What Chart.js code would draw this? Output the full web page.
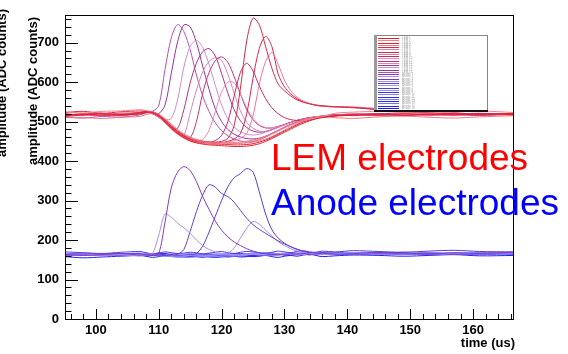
<!DOCTYPE html>
<html><head><meta charset="utf-8">
<script src="https://cdn.jsdelivr.net/npm/chart.js@4"></script>
<style>html,body{margin:0;padding:0;background:#fff;}#wrap{width:568px;height:354px;position:relative;}</style>
</head><body><div id="wrap"><canvas id="c"></canvas></div>
<script>
// time axis (us)
const time = [95.1,98,101,104,107, 108,109,110,111,112,113,114,115,116,117, 118,119,120,121,122,123,124,125,126,127, 128,129,130,131,132,133,134,135,136, 138,141,145,149,153,157,161,166.5];
const xTickLabels = [100,110,120,130,140,150,160];
const yTickLabels = [0,100,200,300,400,500,600,700];

// LEM electrode traces (ADC counts)
const lemD1 = [515,519,516,518,523, 525,522,514,500,484,470,459,451,446,443, 441,440,439,438,437,437,438,440,444,450, 457,465,473,481,489,496,502,507,510, 514,516,519,516,519,517,520,518];
const lemD2 = [513,517,520,516,521, 524,523,516,503,488,474,463,455,449,446, 444,443,442,442,441,441,442,444,448,453, 460,468,476,484,492,499,504,508,511, 515,518,516,520,517,521,518,521];
const lemD3 = [525,522,526,527,530, 528,521,512,497,481,468,458,451,447,445, 444,443,443,444,444,445,447,450,455,461, 468,476,484,491,497,502,506,509,512, 521,524,526,523,521,525,527,523];
const lemD4 = [512,510,508,511,513, 518,520,515,506,492,478,467,459,453,449, 447,446,446,446,447,448,450,453,457,463, 470,478,486,493,499,504,507,510,512, 510,508,512,514,511,509,512,515];
const lemD5 = [516,520,517,515,522, 527,525,519,508,494,480,469,461,455,451, 449,447,446,445,445,445,446,448,451,456, 462,470,479,487,494,500,505,509,512, 514,518,515,518,521,517,520,519];
const lemP1 = [511,509,513,511,517, 522,526,540,632,712,746,728,682,618,565, 526,497,477,464,456,451,449,450,454,461, 469,477,485,492,498,503,507,510,512, 515,518,516,519,521,518,516,519];
const lemP2 = [519,516,518,521,520, 525,524,520,542,622,702,745,740,700,640, 582,532,500,480,468,461,457,456,458,463, 470,478,486,493,499,504,508,511,513, 516,519,517,515,518,521,518,520];
const lemP3 = [516,520,517,519,523, 524,520,513,505,508,555,638,690,706,688, 645,592,542,507,486,474,468,466,468,473, 479,486,492,498,503,507,510,512,514, 516,515,518,520,517,519,521,517];
const lemP4 = [518,516,519,517,521, 525,521,512,499,486,483,530,598,648,677, 685,666,622,572,530,502,485,476,473,475, 480,486,492,498,503,507,510,512,514, 517,519,516,518,521,518,516,520];
const lemP5 = [520,517,515,518,522, 526,523,515,501,486,472,466,522,580,626, 652,662,655,620,572,527,498,483,476,475, 479,485,491,497,502,506,509,511,513, 515,518,520,517,515,519,521,518];
const lemP6 = [517,519,521,516,520, 523,525,517,504,489,475,465,459,500,572, 624,654,664,650,614,570,530,505,490,484, 484,488,493,498,503,507,510,512,514, 518,516,519,522,518,516,520,518];
const lemP7 = [515,518,520,517,523, 524,522,514,501,486,473,463,456,452,455, 478,525,575,600,598,570,535,508,492,485, 484,487,492,497,502,506,509,512,514, 516,519,517,520,518,515,519,521];
const lemP8 = [519,516,518,521,522, 525,520,511,497,482,469,459,452,448,446, 447,452,465,500,565,625,648,628,590,558, 535,520,510,505,503,504,507,510,512, 515,518,520,517,519,522,518,517];
const lemP9 = [523,526,521,525,527, 526,523,516,503,489,476,466,458,453,450, 448,448,450,458,490,585,705,762,745,690, 635,595,578,565,555,549,545,542,540, 538,536,531,526,522,520,518,521];
const lemP10 = [516,518,521,517,520, 523,521,513,500,485,472,462,455,450,447, 446,446,447,450,456,470,520,610,685,716, 690,620,588,570,558,550,545,541,539, 537,535,530,525,521,518,520,517];
const lemP11 = [518,515,519,520,522, 526,522,515,502,488,474,464,456,451,448, 446,445,446,448,452,458,470,515,595,652, 675,645,605,578,562,552,546,542,540, 538,537,533,527,523,519,518,520];

// Anode electrode traces (ADC counts)
const anoP1 = [162,165,161,164,163, 162,165,212,266,258,243,231,217,200,186, 176,170,166,164,163,161,162,164,163,165, 164,162,164,165,163,164,166,165,163, 165,167,164,166,168,165,167,166];
const anoP2 = [164,161,163,166,162, 163,162,166,245,332,372,386,376,348,310, 278,248,225,208,195,186,178,172,168,165, 163,164,162,165,164,166,164,165,167, 164,166,168,165,167,164,166,168];
const anoP3 = [161,164,162,165,163, 164,162,160,161,162,164,176,222,272,314, 340,334,318,310,296,275,255,239,227,217, 207,198,190,183,177,172,168,166,164, 166,165,168,166,164,167,165,167];
const anoP4 = [163,166,164,162,165, 162,164,163,161,162,160,161,163,166,185, 220,260,300,335,358,368,381,372,322,266, 226,205,192,183,176,171,168,166,165, 167,165,166,168,165,167,166,168];
const anoP5 = [165,162,164,163,161, 163,165,162,160,161,159,160,161,160,162, 161,163,162,166,180,205,230,247,240,225, 210,196,186,178,172,168,165,164,166, 165,167,164,166,168,166,165,167];
const anoB1 = [162,166,163,160,164, 165,163,161,160,158,157,158,156,157,158, 157,158,159,160,161,162,163,164,165,163, 164,166,165,163,165,167,166,164,166, 168,165,167,166,164,168,166,167];
const anoB2 = [170,168,166,169,171, 168,165,167,170,168,166,167,169,168,165, 167,169,171,168,166,169,171,170,168,167, 169,172,170,168,171,173,170,169,172, 170,173,171,169,172,174,171,170];
const anoB3 = [160,162,165,163,161, 164,166,163,161,160,162,164,166,163,161, 160,162,165,167,164,162,163,166,164,162, 165,163,166,168,165,163,166,164,163, 166,164,167,165,168,166,164,167];
const anoB4 = [163,165,162,166,164, 161,163,165,162,160,161,158,159,161,163, 165,162,160,161,163,166,164,162,165,167, 164,162,165,167,164,166,163,165,168, 167,165,163,166,168,165,167,164];
const anoB5 = [166,164,161,163,165, 167,164,162,163,165,163,161,160,162,164, 163,161,163,165,163,161,163,165,166,164, 162,165,167,164,162,165,167,166,164, 163,166,168,166,163,165,168,166];
const anoB6 = [161,163,166,164,162, 160,162,164,166,163,160,158,157,159,161, 160,158,157,159,161,160,159,161,163,162, 164,166,163,165,167,165,163,166,168, 166,164,166,169,167,164,166,168];
const anoB7 = [164,161,163,165,167, 165,162,160,161,164,166,164,162,160,161, 163,165,164,161,160,162,165,167,165,162, 161,163,166,168,166,164,162,165,167, 164,167,165,163,166,168,167,165];
const anoB8 = [162,164,166,163,160, 162,165,167,164,161,159,160,162,165,164, 161,160,162,164,166,164,161,162,164,166, 167,165,162,164,166,167,164,163,165, 168,166,164,165,167,165,163,166];
const anoB9 = [165,167,164,162,163, 166,164,161,159,158,160,162,161,159,158, 159,161,160,158,159,161,163,162,160,162, 165,166,164,163,165,167,165,166,164, 166,167,165,168,166,164,167,169];
const anoB10 = [158,155,157,159,161, 159,156,158,161,159,157,159,161,158,156, 159,161,159,157,159,162,160,158,159,161, 158,156,159,161,159,162,164,161,158, 160,162,161,159,161,163,160,161];
const anoB11 = [164,166,163,161,165, 163,161,164,162,160,158,157,158,160,159, 157,156,158,160,159,157,158,160,162,161, 163,165,163,161,164,166,165,167,165, 163,166,168,166,164,167,166,168];

const traces = [
  ['LEM 1', lemD1], ['LEM 2', lemD3], ['LEM 3', lemD2], ['LEM 4', lemD4],
  ['LEM 5', lemP9], ['LEM 6', lemP11], ['LEM 7', lemP10], ['LEM 8', lemD5],
  ['LEM 9', lemP8], ['LEM 10', lemP7], ['LEM 11', lemP6], ['LEM 12', lemP5],
  ['LEM 13', lemP4], ['LEM 14', lemP3], ['LEM 15', lemP2], ['LEM 16', lemP1],
  ['Anode 1', anoP2], ['Anode 2', anoP1], ['Anode 3', anoP3], ['Anode 4', anoP5],
  ['Anode 5', anoP4], ['Anode 6', anoB1], ['Anode 7', anoB2], ['Anode 8', anoB3],
  ['Anode 9', anoB4], ['Anode 10', anoB5], ['Anode 11', anoB6], ['Anode 12', anoB7],
  ['Anode 13', anoB8], ['Anode 14', anoB9], ['Anode 15', anoB10], ['Anode 16', anoB11]
];
const colors = [
  'rgb(230,30,40)','rgb(240,130,140)','rgb(220,40,60)','rgb(240,120,130)',
  'rgb(215,40,70)','rgb(235,120,150)','rgb(210,40,80)','rgb(230,120,150)',
  'rgb(200,40,100)','rgb(225,140,180)','rgb(190,50,120)','rgb(215,130,190)',
  'rgb(170,50,140)','rgb(205,140,210)','rgb(150,50,160)','rgb(180,80,180)',
  'rgb(130,60,190)','rgb(170,140,235)','rgb(110,60,200)','rgb(160,140,240)',
  'rgb(90,60,210)','rgb(150,150,250)','rgb(80,60,220)','rgb(140,140,250)',
  'rgb(60,50,230)','rgb(130,130,255)','rgb(50,40,240)','rgb(120,120,255)',
  'rgb(40,40,240)','rgb(110,110,255)','rgb(30,30,250)','rgb(20,20,255)'
];

const FONT = '"Liberation Sans", Arial, Helvetica, sans-serif';

const decor = {
  id: 'decor',
  afterDatasetsDraw(chart) {
    const ctx = chart.ctx, a = chart.chartArea;
    const xs = chart.scales.x, ys = chart.scales.y;
    ctx.save();
    ctx.strokeStyle = '#000'; ctx.lineWidth = 1;
    ctx.strokeRect(a.left + 0.5, a.top + 0.5, a.right - a.left - 1, a.bottom - a.top);
    ctx.beginPath();
    for (let v = 96; v <= xs.max; v += 2) {
      const px = Math.round(xs.getPixelForValue(v)) + 0.5;
      const len = (v % 10 === 0) ? 10 : 5;
      ctx.moveTo(px, a.bottom); ctx.lineTo(px, a.bottom - len);
    }
    for (let v = 0; v <= ys.max; v += 20) {
      const py = Math.round(ys.getPixelForValue(v)) + 0.5;
      const len = (v % 100 === 0) ? 13 : 6.5;
      ctx.moveTo(a.left, py); ctx.lineTo(a.left + len, py);
    }
    ctx.stroke();
    ctx.fillStyle = '#000';
    ctx.font = 'bold 13px ' + FONT;
    ctx.textAlign = 'center'; ctx.textBaseline = 'alphabetic';
    xTickLabels.forEach(v => ctx.fillText(String(v), xs.getPixelForValue(v), 334));
    ctx.textAlign = 'right'; ctx.textBaseline = 'middle';
    yTickLabels.forEach(v => ctx.fillText(String(v), 59, ys.getPixelForValue(v)));
    ctx.textAlign = 'right'; ctx.textBaseline = 'alphabetic';
    ctx.fillText('time (us)', a.right + 1, 347);
    ctx.save();
    ctx.translate(33, a.top + 2); ctx.rotate(-Math.PI / 2);
    ctx.textAlign = 'right'; ctx.textBaseline = 'middle';
    ctx.fillText('amplitude (ADC counts)', 0, 0);
    ctx.restore();
    ctx.save();
    ctx.translate(2, a.top - 6); ctx.rotate(-Math.PI / 2);
    ctx.textAlign = 'right'; ctx.textBaseline = 'middle';
    ctx.fillText('amplitude (ADC counts)', 0, 0);
    ctx.restore();
    const lx = 374, ly = 35, lw = 113, lh = 75;
    ctx.fillStyle = '#fff';
    ctx.fillRect(lx, ly, lw, lh);
    ctx.strokeStyle = '#888'; ctx.lineWidth = 1;
    ctx.strokeRect(lx + 0.5, ly + 0.5, lw, lh);
    ctx.fillStyle = '#999'; ctx.fillRect(lx, ly, 3, lh);
    ctx.fillStyle = '#111'; ctx.fillRect(lx, ly + lh, lw + 1, 2);
    const ds = chart.data.datasets;
    const step = (lh - 5) / (ds.length - 1);
    ctx.font = '3px ' + FONT; ctx.textAlign = 'left'; ctx.textBaseline = 'middle';
    ds.forEach((d, i) => {
      const y = Math.round(ly + 3 + i * step) + 0.5;
      ctx.strokeStyle = d.borderColor; ctx.lineWidth = 1;
      ctx.beginPath(); ctx.moveTo(378, y); ctx.lineTo(399, y); ctx.stroke();
      ctx.fillStyle = '#aaa'; ctx.fillText(d.label, 402, y);
    });
    ctx.font = '37px ' + FONT; ctx.textAlign = 'left'; ctx.textBaseline = 'alphabetic';
    ctx.fillStyle = 'rgb(255,0,0)'; ctx.fillText('LEM electrodes', 271, 170);
    ctx.fillStyle = 'rgb(0,0,255)'; ctx.fillText('Anode electrodes', 271, 215);
    ctx.restore();
  }
};

const datasets = traces.map(([label, vals], i) => ({
  label,
  data: time.map((t, k) => ({ x: t, y: vals[k] })),
  borderColor: colors[i],
  borderWidth: 1,
  pointRadius: 0,
  fill: false,
  tension: 0.3
}));

new Chart(document.getElementById('c'), {
  type: 'line',
  data: { datasets },
  options: {
    responsive: true, maintainAspectRatio: false, animation: false,
    layout: { padding: { left: 65, right: 54, top: 15, bottom: 35 } },
    plugins: { legend: { display: false }, tooltip: { enabled: false } },
    scales: {
      x: { type: 'linear', min: 95.1, max: 166.5, display: false },
      y: { type: 'linear', min: 0, max: 770, display: false }
    }
  },
  plugins: [decor]
});
</script></body></html>
